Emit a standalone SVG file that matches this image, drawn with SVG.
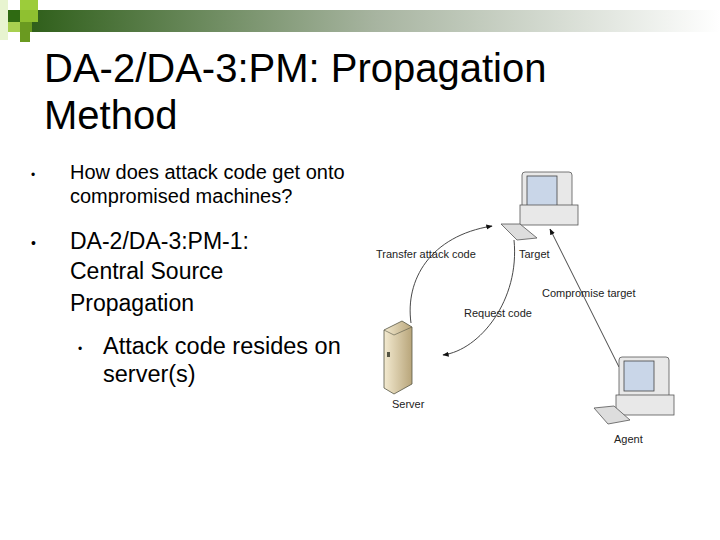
<svg xmlns="http://www.w3.org/2000/svg" width="720" height="540" viewBox="0 0 720 540">
<style>
.t{font-family:"Liberation Sans",Arial,sans-serif;fill:#000}
.l{font-family:"Liberation Sans",Arial,sans-serif;font-size:11px;fill:#222}
.c{fill:none;stroke:#333;stroke-width:0.9}
.mon{fill:#e8e8e8;stroke:#555;stroke-width:0.8}
.scr{fill:#c9d6e8;stroke:#444;stroke-width:0.8}
</style>
<defs>
<linearGradient id="g" x1="0" x2="1"><stop offset="0" stop-color="#2f5f1a"/><stop offset="0.5" stop-color="#a7b4a0"/><stop offset="1" stop-color="#ffffff"/></linearGradient>
<linearGradient id="sv" x1="0" x2="1"><stop offset="0" stop-color="#f3ead0"/><stop offset="1" stop-color="#b8a57a"/></linearGradient>
<marker id="a" viewBox="0 0 10 10" refX="9" refY="5" markerWidth="7" markerHeight="7" orient="auto"><path d="M0,1 L10,5 L0,9 z" fill="#111"/></marker>
</defs>
<rect width="720" height="540" fill="#fff"/>
<rect x="30" y="10" width="690" height="22" fill="url(#g)"/>
<rect x="8" y="10" width="12" height="12" fill="#2f6a12"/>
<rect x="20" y="0" width="18" height="10" fill="#9ccc3a"/>
<rect x="20" y="10" width="18" height="12" fill="#8fc030"/>
<rect x="8" y="22" width="12" height="10" fill="#a8d050"/>
<rect x="20" y="22" width="12" height="10" fill="#6a9a20"/>
<rect x="0" y="0" width="8" height="40" fill="#d8ecb0" opacity="0.6"/>
<rect x="20" y="32" width="10" height="10" fill="#6a9a20"/>
<text class="t" x="44" y="82" font-size="40">DA-2/DA-3:PM: Propagation</text>
<text class="t" x="44" y="129" font-size="40">Method</text>
<text class="t" x="31" y="179" font-size="12">•</text>
<text class="t" x="70" y="179" font-size="20">How does attack code get onto</text>
<text class="t" x="70" y="203" font-size="20">compromised machines?</text>
<text class="t" x="31" y="248" font-size="14">•</text>
<text class="t" x="70" y="249" font-size="23">DA-2/DA-3:PM-1:</text>
<text class="t" x="70" y="279" font-size="23">Central Source</text>
<text class="t" x="70" y="311" font-size="23">Propagation</text>
<text class="t" x="78" y="353" font-size="12">•</text>
<text class="t" x="103" y="354" font-size="23.5">Attack code resides on</text>
<text class="t" x="103" y="382" font-size="23.5">server(s)</text>
<g id="connectors">
<path class="c" d="M411,323 C405,280 430,236 492,226" marker-end="url(#a)"/>
<path class="c" d="M514,240 C520,300 480,350 443,355" marker-end="url(#a)"/>
<path class="c" d="M619,367 L550,229" marker-end="url(#a)"/>
</g>
<g id="target">
<rect x="522" y="172" width="50" height="45" rx="3" class="mon"/>
<rect x="527" y="176" width="30" height="30" class="scr"/>
<rect x="520" y="205" width="58" height="20" class="mon"/>
<polygon points="501,224 520,224 537,238 517,240" fill="#ddd" stroke="#555" stroke-width="0.8"/>
<text class="l" x="519" y="258">Target</text>
</g>
<g id="server">
<polygon points="384,330 402,321 412,327 412,384 394,394 384,388" fill="url(#sv)" stroke="#554" stroke-width="0.8"/>
<polyline points="384,330 394,335 412,327 M394,335 394,394" fill="none" stroke="#554" stroke-width="0.6"/>
<rect x="387" y="352" width="3" height="5" fill="#554"/>
<text class="l" x="392" y="408">Server</text>
</g>
<g id="agent">
<rect x="619" y="357" width="50" height="45" rx="3" class="mon"/>
<rect x="624" y="361" width="30" height="30" class="scr"/>
<rect x="616" y="395" width="58" height="20" class="mon"/>
<polygon points="594,408 614,406 630,420 608,424" fill="#ddd" stroke="#555" stroke-width="0.8"/>
<text class="l" x="614" y="443">Agent</text>
</g>
<text class="l" x="376" y="258">Transfer attack code</text>
<text class="l" x="542" y="297">Compromise target</text>
<text class="l" x="464" y="317">Request code</text>
</svg>
